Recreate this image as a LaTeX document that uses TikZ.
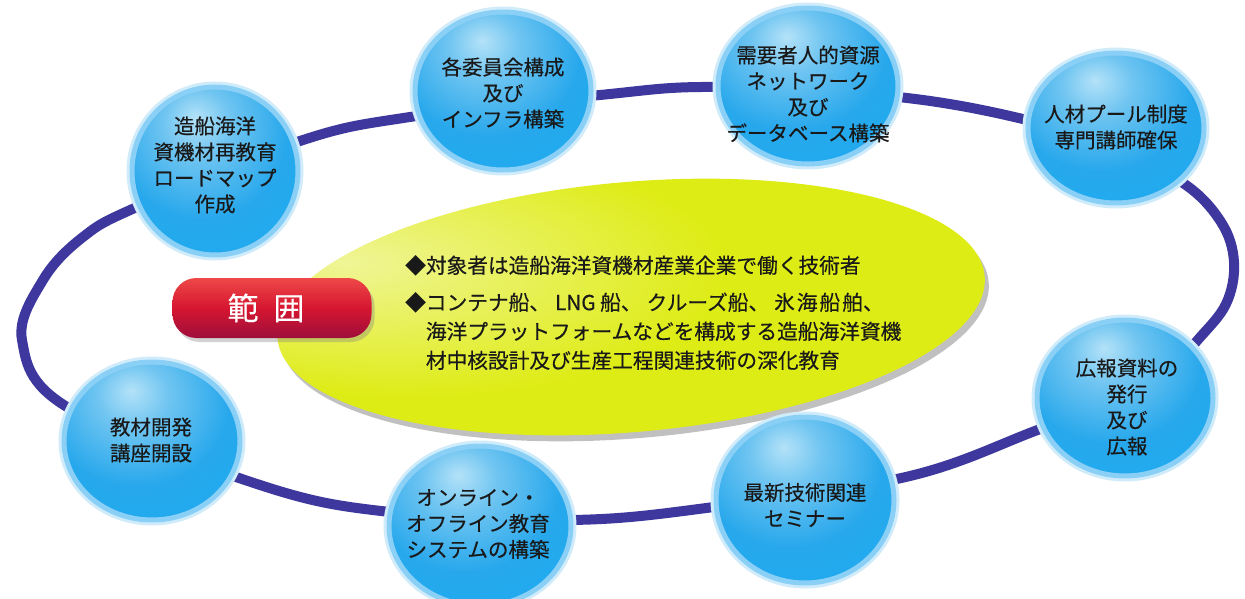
\documentclass[tikz,border=0pt]{standalone}
\usepackage{fontspec}
\newfontfamily\jp[FakeBold=0.4]{Noto Sans CJK JP}
\usetikzlibrary{shadows,shapes.geometric}

\definecolor{ringc}{RGB}{62,56,158}
\definecolor{bubhi}{RGB}{180,226,248}
\definecolor{bubmid}{RGB}{112,197,241}
\definecolor{bubmain}{RGB}{40,168,236}
\definecolor{bubdeep}{RGB}{22,172,241}
\definecolor{bubrim}{RGB}{138,208,246}
\definecolor{bubhalo}{RGB}{208,236,251}
\definecolor{yelhi}{RGB}{240,245,150}
\definecolor{yelmain}{RGB}{222,236,22}
\definecolor{yeledge}{RGB}{214,228,12}
\definecolor{redtop}{RGB}{238,72,72}
\definecolor{redmid}{RGB}{214,22,48}
\definecolor{redbot}{RGB}{158,14,60}
\definecolor{ink}{RGB}{25,25,25}

\pgfdeclareradialshading{bubble}{\pgfpoint{-6bp}{16bp}}{%
 color(0bp)=(bubhi); color(10bp)=(bubmid); color(26bp)=(bubmain); color(50bp)=(bubdeep); color(100bp)=(bubdeep)}
\pgfdeclareradialshading{yolk}{\pgfpoint{-20bp}{8bp}}{%
 color(0bp)=(yelhi); color(22bp)=(yelmain); color(46bp)=(yelmain); color(50bp)=(yeledge); color(100bp)=(yeledge)}

\tikzset{
  ringline/.style={draw=ringc, line width=10, line join=round},
  bub/.style={ellipse, inner sep=0, shade, shading=bubble, draw=bubrim, line width=5,
              preaction={draw=bubhalo, line width=11}},
  bubtext/.style={font=\jp\fontsize{20.5}{26}\selectfont, align=center, text=ink, inner sep=0},
  bodytext/.style={font=\jp\fontsize{20.7}{29}\selectfont, align=left, text=ink, inner sep=0},
  yolkshape/.style={ellipse, inner sep=0, shade, shading=yolk,
              drop shadow={shadow xshift=4pt, shadow yshift=-6pt, opacity=0.35, fill=black!70}},
  btn/.style={rectangle, rounded corners=24, minimum width=199, minimum height=60, inner sep=0,
              top color=redtop, bottom color=redbot, middle color=redmid, text=white,
              font=\jp\fontsize{31}{31}\selectfont,
              drop shadow={shadow xshift=3pt, shadow yshift=-4pt, opacity=0.35}}
}

\begin{document}
\begin{tikzpicture}[x=1pt,y=-1pt]
\useasboundingbox (0,0) rectangle (1245,599);
\fill[white] (0,0) rectangle (1245,599);

% ring
\draw[ringline] plot[smooth cycle, tension=0.6] coordinates {
 (300,141) (410,117) (600,95) (715,87) (898,97) (1027,120) (1110,148) (1183,183) (1221,222) (1234,262)
 (1226,304) (1196,342) (1155,388) (1043,428) (910,476) (714,507) (571,520) (390,512) (260,485)
 (67,407) (22,340) (43,280) (83,237) (137,207)};

% central ellipse
\node[yolkshape, minimum width=710, minimum height=250, rotate=5] (scope) at (631,307) {};

% bubbles
\node[bub, minimum width=166, minimum height=168] (b1) at (215,171) {};
\node[bub, minimum width=176, minimum height=158] (b2) at (503,91) {};
\node[bub, minimum width=180, minimum height=156] (b3) at (808,86) {};
\node[bub, minimum width=176, minimum height=150] (b4) at (1116,128) {};
\node[bub, minimum width=176, minimum height=156] (b5) at (1125,398) {};
\node[bub, minimum width=178, minimum height=166] (b6) at (805,500) {};
\node[bub, minimum width=182, minimum height=160] (b7) at (480,526) {};
\node[bub, minimum width=176, minimum height=158] (b8) at (152,441) {};

\node[bubtext] (t1) at (215,165) {造船海洋\\資機材再教育\\ロードマップ\\作成};
\node[bubtext] (t2) at (503,93) {各委員会構成\\及び\\インフラ構築};
\node[bubtext] (t3) at (808,94) {需要者人的資源\\ネットワーク\\及び\\データベース構築};
\node[bubtext] (t4) at (1116,127) {人材プール制度\\専門講師確保};
\node[bubtext] (t5) at (1127,407) {広報資料の\\発行\\及び\\広報};
\node[bubtext] (t6) at (805,505) {最新技術関連\\セミナー};
\node[bubtext] (t7) at (478,524) {オンライン・\\オフライン教育\\システムの構築};
\node[bubtext] (t8) at (151,440) {教材開発\\講座開設};

% description
\node[bodytext, anchor=north west] (desc) at (405,255) {◆対象者は造船海洋資機材産業企業で働く技術者\\[8pt]◆コンテナ船、\hspace{5pt}LNG 船、\hspace{5pt}クルーズ船、\hspace{5pt}氷\hspace{2pt}海\hspace{2pt}船\hspace{2pt}舶、\\\phantom{◆}海洋プラットフォームなどを構成する造船海洋資機\\\phantom{◆}材中核設計及び生産工程関連技術の深化教育};

% button
\node[btn] (range) at (272,308) {範\hspace{15pt}囲\kern12pt};
\end{tikzpicture}
\end{document}
